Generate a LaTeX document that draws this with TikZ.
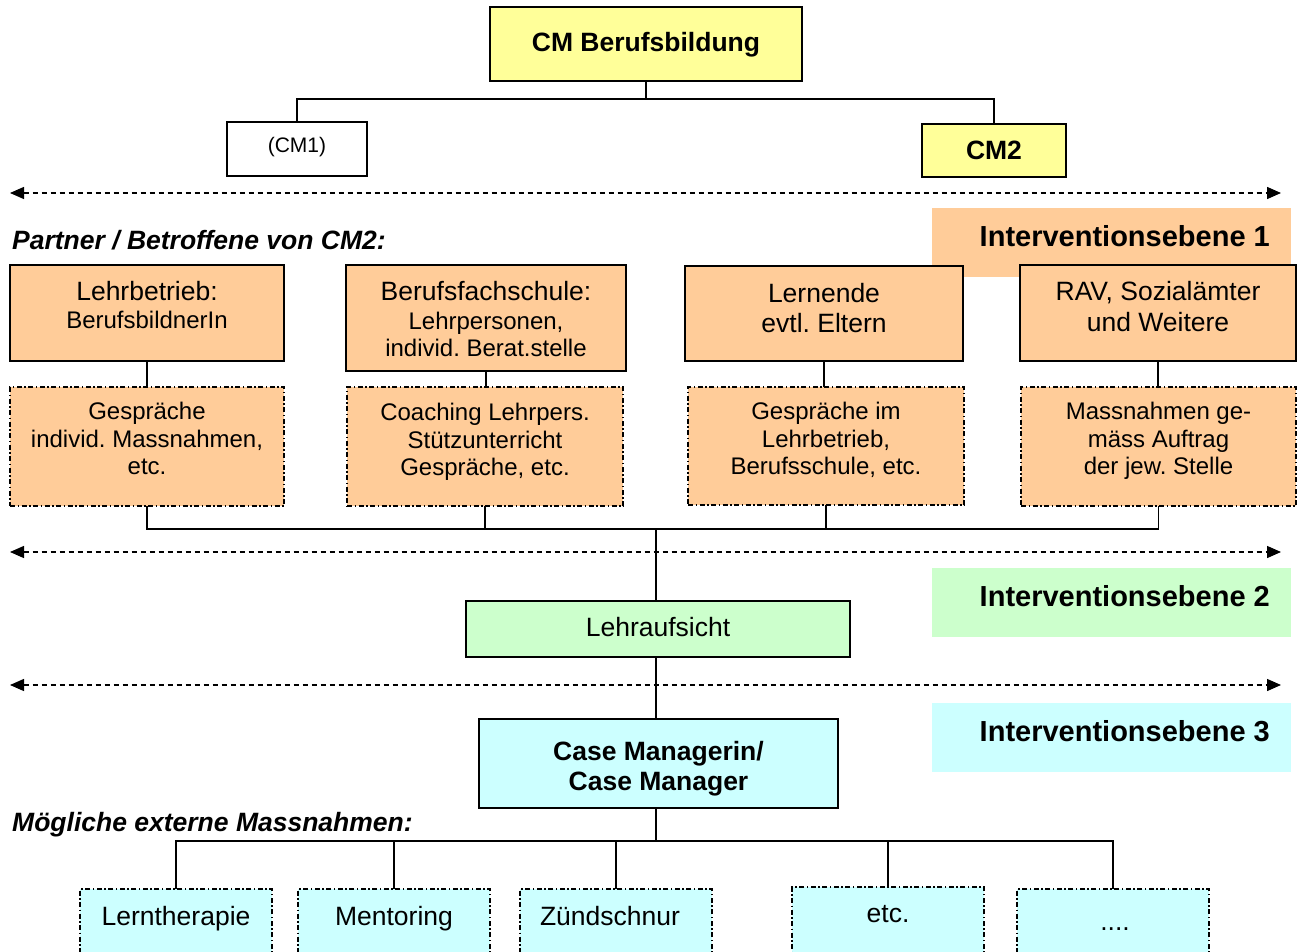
\documentclass[tikz,border=0pt]{standalone}
\usepackage{fontspec}
\setmainfont{Liberation Sans}
\frenchspacing
\usetikzlibrary{arrows.meta}
\definecolor{orng}{HTML}{FFCC99}
\definecolor{grn}{HTML}{CCFFCC}
\definecolor{cyn}{HTML}{CCFFFF}
\definecolor{yel}{HTML}{FFFF99}
\tikzset{
 sz/.style 2 args={minimum width=#1pt, minimum height=#2pt},
 box/.style={draw, line width=1.4pt, inner sep=0pt, outer sep=0pt},
 ddbox/.style={draw, line width=1.5pt, dash pattern=on 5pt off 2.5pt on 1.5pt off 2.5pt, inner sep=0pt, outer sep=0pt},
 ivbox/.style={inner sep=0pt, outer sep=0pt},
 conn/.style={line width=1.4pt},
 lvl/.style={line width=1.4pt, dash pattern=on 5pt off 4pt, {Triangle[length=14pt,width=12pt]}-{Triangle[length=14pt,width=12pt]}},
 big/.style={font=\fontsize{26.5}{30}\selectfont, anchor=base, inner sep=0pt},
 small/.style={font=\fontsize{24}{27}\selectfont, anchor=base, inner sep=0pt},
 tiny/.style={font=\fontsize{21}{24}\selectfont, anchor=base, inner sep=0pt},
 bbig/.style={font=\bfseries\fontsize{26.5}{30}\selectfont, anchor=base, inner sep=0pt},
 bit/.style={font=\bfseries\itshape\fontsize{26.5}{30}\selectfont, anchor=base west, inner sep=0pt},
 ivt/.style={font=\bfseries\fontsize{29}{32}\selectfont, anchor=base east, inner sep=0pt},
}
\begin{document}
\begin{tikzpicture}[x=1pt,y=-1pt]
\useasboundingbox (0,0) rectangle (1302,952);
\clip (0,0) rectangle (1302,952);
\fill[white] (0,0) rectangle (1302,952);

% top
\node[box, fill=yel, sz={312}{74}] (top) at (646,44) {};
\node[bbig] (ttop) at (646,51.5) {CM Berufsbildung};
\node[box, fill=white, sz={140}{54}] (cm1) at (297,149) {};
\node[tiny] (tcm1) at (297,152.5) {(CM1)};
\node[box, fill=yel, sz={144}{53}] (cm2) at (994,150.5) {};
\node[bbig] (tcm2) at (994,159.5) {CM2};
\coordinate (tb) at (646,99);
\draw[conn] (top.south) -- (tb);
\draw[conn] (cm1.north) |- (cm2.north |- tb) -- (cm2.north);

% level lines
\coordinate (l1a) at (10,193); \coordinate (l1b) at (1281,193);
\coordinate (l2a) at (10,552); \coordinate (l2b) at (1281,552);
\coordinate (l3a) at (10,685); \coordinate (l3b) at (1281,685);
\draw[lvl] (l1a) -- (l1b);
\draw[lvl] (l2a) -- (l2b);
\draw[lvl] (l3a) -- (l3b);

% intervention labels
\node[ivbox, fill=orng, sz={359}{69}] (iv1) at (1111.5,242.5) {};
\node[ivt] (tiv1) at (1270,247) {Interventionsebene 1};
\node[ivbox, fill=grn, sz={359}{69}] (iv2) at (1111.5,602.5) {};
\node[ivt] (tiv2) at (1270,606) {Interventionsebene 2};
\node[ivbox, fill=cyn, sz={359}{69}] (iv3) at (1111.5,737.5) {};
\node[ivt] (tiv3) at (1270,741) {Interventionsebene 3};

\node[bit] (partner) at (12,249.5) {Partner / Betroffene von CM2:};

% level 1 boxes
\node[box, fill=orng, sz={274}{96}] (a1) at (147,313) {};
\node[big] (ta1a) at (147,300.5) {Lehrbetrieb:};
\node[small] (ta1b) at (147,328.6) {BerufsbildnerIn};
\node[box, fill=orng, sz={280}{106}] (a2) at (486,318) {};
\node[big] (ta2a) at (486,300.5) {Berufsfachschule:};
\node[small] (ta2b) at (486,329.6) {Lehrpersonen,};
\node[small] (ta2c) at (486,356.6) {individ. Berat.stelle};
\node[box, fill=orng, sz={278}{95}] (a3) at (824,313.5) {};
\node[big] (ta3a) at (824,302.5) {Lernende};
\node[big] (ta3b) at (824,332.5) {evtl. Eltern};
\node[box, fill=orng, sz={276}{96}] (a4) at (1158,313) {};
\node[big] (ta4a) at (1158,300.5) {RAV, Sozialämter};
\node[big] (ta4b) at (1158,331.5) {und Weitere};

% level 1 measures
\node[ddbox, fill=orng, sz={274}{119}] (g1) at (147,446.5) {};
\node[small] (tg1a) at (147,419.6) {Gespräche};
\node[small] (tg1b) at (147,447.6) {individ. Massnahmen,};
\node[small] (tg1c) at (147,474.6) {etc.};
\node[ddbox, fill=orng, sz={276}{119}] (g2) at (485,446.5) {};
\node[small] (tg2a) at (485,420.6) {Coaching Lehrpers.};
\node[small] (tg2b) at (485,448.6) {Stützunterricht};
\node[small] (tg2c) at (485,475.6) {Gespräche, etc.};
\node[ddbox, fill=orng, sz={276}{118}] (g3) at (826,446) {};
\node[small] (tg3a) at (826,419.6) {Gespräche im};
\node[small] (tg3b) at (826,447.6) {Lehrbetrieb,};
\node[small] (tg3c) at (826,474.6) {Berufsschule, etc.};
\node[ddbox, fill=orng, sz={275}{119}] (g4) at (1158.5,446.5) {};
\node[small] (tg4a) at (1158.5,419.6) {Massnahmen ge-};
\node[small] (tg4b) at (1158.5,447.6) {mäss Auftrag};
\node[small] (tg4c) at (1158.5,474.6) {der jew. Stelle};

\draw[conn] (a1.south) -- (g1.north);
\draw[conn] (a2.south) -- (a2.south |- g2.north);
\draw[conn] (a3.south) -- (a3.south |- g3.north);
\draw[conn] (a4.south) -- (a4.south |- g4.north);

\coordinate (bus) at (656,529);
\draw[conn] (g1.south) |- (g4.south |- bus) -- (g4.south);
\draw[conn] (g2.south) -- (g2.south |- bus);
\draw[conn] (g3.south) -- (g3.south |- bus);

% level 2
\node[box, fill=grn, sz={384}{56}] (lehr) at (658,629) {};
\node[big] (tlehr) at (658,636.5) {Lehraufsicht};
\draw[conn] (bus) -- (bus |- lehr.north);

% level 3
\node[box, fill=cyn, sz={359}{89}] (case) at (658.5,763.5) {};
\node[bbig] (tcasea) at (658.5,760.5) {Case Managerin/};
\node[bbig] (tcaseb) at (658.5,790.5) {Case Manager};
\draw[conn] (lehr.south -| bus) -- (bus |- case.north);

\node[bit] (moegl) at (12,831.5) {Mögliche externe Massnahmen:};

% external measures
\node[ddbox, fill=cyn, sz={192}{86}] (b1) at (176,932) {};
\node[big] (tb1) at (176,925.5) {Lerntherapie};
\node[ddbox, fill=cyn, sz={192}{86}] (b2) at (394,932) {};
\node[big] (tb2) at (394,925.5) {Mentoring};
\node[ddbox, fill=cyn, sz={192}{86}] (b3) at (616,932) {};
\node[big] (tb3) at (610,925.5) {Zündschnur};
\node[ddbox, fill=cyn, sz={192}{88}] (b4) at (888,931) {};
\node[big] (tb4) at (888,922.5) {etc.};
\node[ddbox, fill=cyn, sz={192}{86}] (b5) at (1113,932) {};
\node[big] (tb5) at (1115,930) {....};

\coordinate (bus2) at (656,841);
\draw[conn] (bus |- case.south) -- (bus2);
\draw[conn] (b1.north) |- (b5.north |- bus2) -- (b5.north);
\draw[conn] (b2.north) -- (b2.north |- bus2);
\draw[conn] (b3.north) -- (b3.north |- bus2);
\draw[conn] (b4.north) -- (b4.north |- bus2);
\end{tikzpicture}
\end{document}
